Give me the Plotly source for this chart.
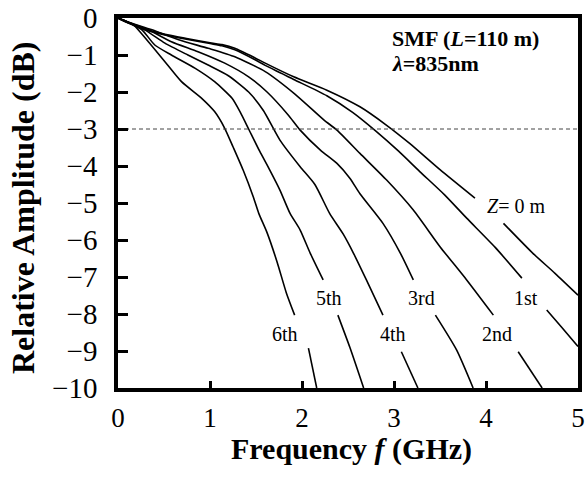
import plotly.graph_objects as go

# ---------------- data ----------------
series_names = ["Z= 0 m", "1st", "2nd", "3rd", "4th", "5th", "6th"]

f_z0 = [0, 0.1, 0.26, 0.51, 0.76, 1.0, 1.13, 1.27, 1.49, 1.6, 1.91, 2.27, 2.63, 2.92, 3.17, 3.5, 3.88, None, 4.19, 4.51, 4.75, 5.0]
db_z0 = [0, -0.1, -0.28, -0.44, -0.56, -0.67, -0.72, -0.82, -1.08, -1.22, -1.59, -1.95, -2.40, -2.90, -3.39, -4.10, -4.87, None, -5.55, -6.36, -6.9, -7.49]

f_1st = [0, 0.1, 0.26, 0.51, 0.76, 1.0, 1.13, 1.27, 1.49, 1.6, 1.91, 2.27, 2.55, 2.8, 3.05, 3.28, 3.55, 3.79, 4.1, 4.39, None, 4.66, 4.82, 5.0]
db_1st = [0, -0.1, -0.29, -0.46, -0.58, -0.69, -0.75, -0.86, -1.13, -1.28, -1.66, -2.1, -2.55, -3.05, -3.6, -4.15, -4.78, -5.41, -6.2, -7.03, None, -7.89, -8.35, -8.88]

f_2nd = [0, 0.1, 0.37, 0.66, 0.98, 1.27, 1.6, 1.92, 2.24, 2.38, 2.63, 2.92, 3.21, 3.5, 3.79, 4.08, None, 4.35, 4.61]
db_2nd = [0, -0.1, -0.32, -0.59, -0.82, -1.05, -1.45, -2.05, -2.76, -3.03, -3.66, -4.38, -5.19, -6.18, -7.08, -8.03, None, -9.02, -10.0]

f_3rd = [0, 0.1, 0.33, 0.58, 0.87, 1.16, 1.42, 1.62, 1.85, 1.98, 2.2, 2.38, 2.52, 2.63, 2.88, 3.07, 3.21, None, 3.45, 3.68, 3.86]
db_3rd = [0, -0.11, -0.32, -0.64, -0.91, -1.22, -1.59, -2.0, -2.62, -3.03, -3.57, -3.93, -4.33, -4.75, -5.55, -6.36, -7.08, None, -8.03, -8.97, -10.0]

f_4th = [0, 0.1, 0.29, 0.51, 0.76, 0.98, 1.2, 1.42, 1.58, 1.76, 1.98, 2.14, 2.3, 2.45, 2.56, 2.7, 2.88, None, 3.08, 3.26]
db_4th = [0, -0.11, -0.32, -0.68, -1.0, -1.27, -1.56, -2.0, -2.5, -3.3, -4.02, -4.5, -5.28, -5.85, -6.36, -7.08, -8.03, None, -9.02, -10.0]

f_5th = [0, 0.1, 0.26, 0.4, 0.58, 0.84, 1.05, 1.24, 1.33, 1.42, 1.54, 1.65, 1.76, 1.87, 1.98, 2.09, 2.23, None, 2.39, 2.52, 2.67]
db_5th = [0, -0.12, -0.32, -0.73, -1.0, -1.36, -1.72, -2.17, -2.55, -3.0, -3.6, -4.11, -4.65, -5.28, -5.73, -6.36, -7.08, None, -8.03, -8.9, -10.0]

f_6th = [0, 0.08, 0.17, 0.33, 0.51, 0.69, 0.91, 1.05, 1.16, 1.25, 1.36, 1.47, 1.53, 1.62, 1.73, 1.83, 1.92, None, 2.07, 2.16]
db_6th = [0, -0.1, -0.19, -0.64, -1.18, -1.72, -2.17, -2.53, -2.98, -3.48, -4.11, -4.83, -5.28, -5.8, -6.6, -7.43, -8.03, None, -8.92, -10.0]

# label anchor positions (GHz, dB)
label_f = [4.33, 4.43, 4.12, 3.30, 2.99, 2.29, 1.82]
label_db = [-5.08, -7.57, -8.54, -7.57, -8.54, -7.57, -8.54]
label_text = ["<i>Z</i>= 0 m", "1st", "2nd", "3rd", "4th", "5th", "6th"]

x_tick_vals = [0, 1, 2, 3, 4, 5]
x_tick_text = ["0", "1", "2", "3", "4", "5"]
y_tick_vals = [0, -1, -2, -3, -4, -5, -6, -7, -8, -9, -10]
y_tick_text = ["0", "\u22121", "\u22122", "\u22123", "\u22124", "\u22125", "\u22126", "\u22127", "\u22128", "\u22129", "\u221210"]

threshold_db = -3

x_title = "<b>Frequency <i>f</i> (GHz)</b>"
y_title = "<b>Relative Amplitude (dB)</b>"

# ---------------- figure ----------------
SERIF = "Liberation Serif"
fig = go.Figure()

curves = [(f_z0, db_z0), (f_1st, db_1st), (f_2nd, db_2nd), (f_3rd, db_3rd),
          (f_4th, db_4th), (f_5th, db_5th), (f_6th, db_6th)]
for name, (fx, fy) in zip(series_names, curves):
    fig.add_trace(go.Scatter(x=fx, y=fy, mode="lines", name=name,
                             line=dict(color="black", width=1.6, shape="spline", smoothing=0.6),
                             connectgaps=False, showlegend=False))

# -3 dB reference line
fig.add_trace(go.Scatter(x=[x_tick_vals[0], x_tick_vals[-1]], y=[threshold_db, threshold_db],
                         mode="lines", line=dict(color="#444", width=1, dash="4px,3px"),
                         showlegend=False))

for t, lx, ly in zip(label_text, label_f, label_db):
    fig.add_annotation(x=lx, y=ly, text=t, showarrow=False,
                       font=dict(family=SERIF, size=20, color="black"))

fig.add_annotation(x=2.96, y=-0.55, xanchor="left", yanchor="middle", showarrow=False,
                   text="<b>SMF (<i>L</i>=110 m)</b>",
                   font=dict(family=SERIF, size=22, color="black"))
fig.add_annotation(x=2.96, y=-1.24, xanchor="left", yanchor="middle", showarrow=False,
                   text="<b><i>λ</i>=835nm</b>",
                   font=dict(family=SERIF, size=22, color="black"))

# axis titles placed as annotations for exact placement
fig.add_annotation(x=0.5, y=0, xref="paper", yref="paper", xanchor="center", yanchor="middle",
                   xshift=3, yshift=-61, showarrow=False, text=x_title,
                   font=dict(family=SERIF, size=30, color="black"))
fig.add_annotation(x=0, y=0.5, xref="paper", yref="paper", xanchor="center", yanchor="middle",
                   xshift=-95, yshift=-5, textangle=-90, showarrow=False, text=y_title,
                   font=dict(family=SERIF, size=32, color="black"))

fig.update_layout(
    width=588, height=479,
    margin=dict(l=118, r=10, t=18, b=91, autoexpand=False),
    paper_bgcolor="white", plot_bgcolor="white",
    font=dict(family=SERIF, color="black"),
    showlegend=False,
)
fig.update_xaxes(
    range=[0, 5], tickvals=x_tick_vals, ticktext=x_tick_text,
    ticks="inside", ticklen=7, tickwidth=3, tickcolor="black",
    showline=True, linewidth=3.5, linecolor="black", mirror=True,
    showgrid=False, zeroline=False, automargin=False,
    ticklabeloverflow="allow",
    tickfont=dict(family=SERIF, size=27, color="black"),
    ticklabelstandoff=3,
)
fig.update_yaxes(
    range=[-10, 0], tickvals=y_tick_vals, ticktext=y_tick_text,
    ticks="inside", ticklen=10, tickwidth=3, tickcolor="black",
    showline=True, linewidth=3.5, linecolor="black", mirror=True,
    showgrid=False, zeroline=False, automargin=False,
    ticklabeloverflow="allow",
    tickfont=dict(family=SERIF, size=29, color="black"),
    ticklabelstandoff=11,
)

# remove the page's default body margin so the 588x479 figure fills the window
fig.write_html("out.html", config={"displayModeBar": False},
               post_script="document.body.style.margin='0px';")
